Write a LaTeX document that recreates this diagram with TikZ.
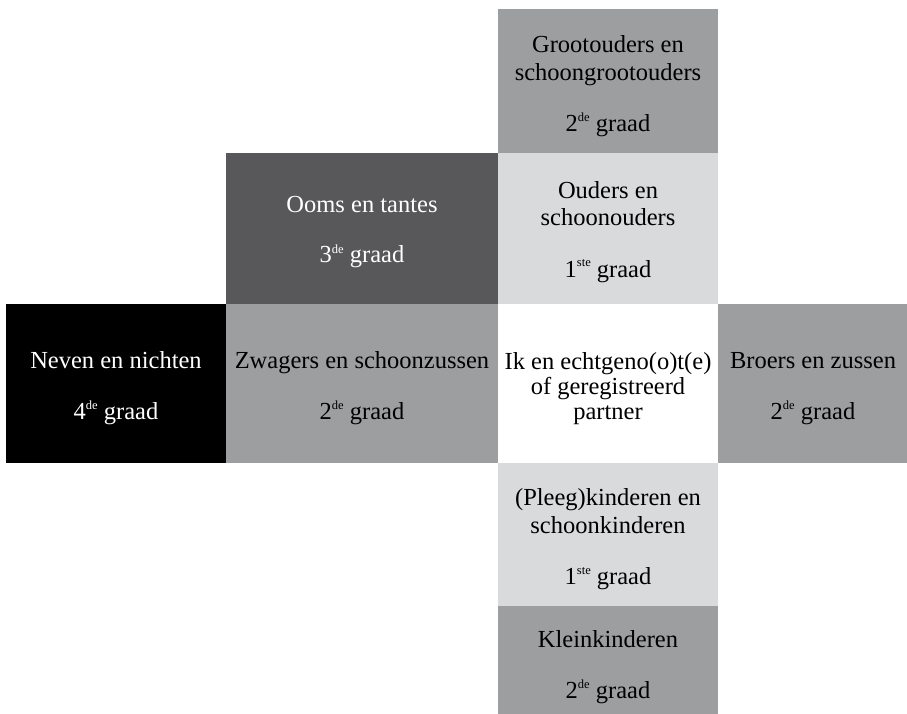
\documentclass[tikz,border=0pt]{standalone}
\usepackage{fontspec}
\setmainfont{Liberation Serif}
\newcommand\supx[1]{\raisebox{10pt}{\fontsize{12.5}{12.5}\selectfont #1}}
\definecolor{midgray}{HTML}{9D9EA0}
\definecolor{darkgray2}{HTML}{58585A}
\definecolor{lightgray2}{HTML}{D9DADC}
\begin{document}
\begin{tikzpicture}[x=1pt,y=-1pt,
  box/.style={rectangle,draw=none,inner sep=0pt,anchor=north west},
  txt/.style={inner sep=0pt,anchor=base,font=\fontsize{24.5}{28}\selectfont}]
\useasboundingbox (0,0) rectangle (907,714);
% boxes
\node[box,fill=midgray,minimum width=220pt,minimum height=144pt] (gp) at (498,9) {};
\node[box,fill=darkgray2,minimum width=272pt,minimum height=151pt] (ooms) at (226,153) {};
\node[box,fill=lightgray2,minimum width=220pt,minimum height=151pt] (ouders) at (498,153) {};
\node[box,fill=black,minimum width=220pt,minimum height=159pt] (neven) at (6,304) {};
\node[box,fill=midgray,minimum width=272pt,minimum height=159pt] (zwagers) at (226,304) {};
\node[box,fill=white,minimum width=220pt,minimum height=159pt] (ik) at (498,304) {};
\node[box,fill=midgray,minimum width=189pt,minimum height=159pt] (broers) at (718,304) {};
\node[box,fill=lightgray2,minimum width=220pt,minimum height=143pt] (pleeg) at (498,463) {};
\node[box,fill=midgray,minimum width=220pt,minimum height=108pt] (klein) at (498,606) {};
% texts
\node[txt] (gpT) at (608,53) {\begin{tabular}[t]{@{}c@{}}Grootouders en\\ schoongrootouders\\[23pt] 2\supx{de} graad\end{tabular}};
\node[txt,text=white] (oomsT) at (362,212) {\begin{tabular}[t]{@{}c@{}}Ooms en tantes\\[23pt] 3\supx{de} graad\end{tabular}};
\node[txt] (oudersT) at (608,198) {\begin{tabular}[t]{@{}c@{}}Ouders en\\ schoonouders\\[23pt] 1\supx{ste} graad\end{tabular}};
\node[txt,text=white] (nevenT) at (116,368) {\begin{tabular}[t]{@{}c@{}}Neven en nichten\\[23pt] 4\supx{de} graad\end{tabular}};
\node[txt] (zwagersT) at (362,368) {\begin{tabular}[t]{@{}c@{}}Zwagers en schoonzussen\\[23pt] 2\supx{de} graad\end{tabular}};
\node[txt] (ikT) at (608,369) {\begin{tabular}[t]{@{}c@{}}Ik en echtgeno(o)t(e)\\[-3pt] of geregistreerd\\[-3pt] partner\end{tabular}};
\node[txt] (broersT) at (813,368) {\begin{tabular}[t]{@{}c@{}}Broers en zussen\\[23pt] 2\supx{de} graad\end{tabular}};
\node[txt] (pleegT) at (608,505) {\begin{tabular}[t]{@{}c@{}}(Pleeg)kinderen en\\ schoonkinderen\\[23pt] 1\supx{ste} graad\end{tabular}};
\node[txt] (kleinT) at (608,647) {\begin{tabular}[t]{@{}c@{}}Kleinkinderen\\[23pt] 2\supx{de} graad\end{tabular}};
\end{tikzpicture}
\end{document}
